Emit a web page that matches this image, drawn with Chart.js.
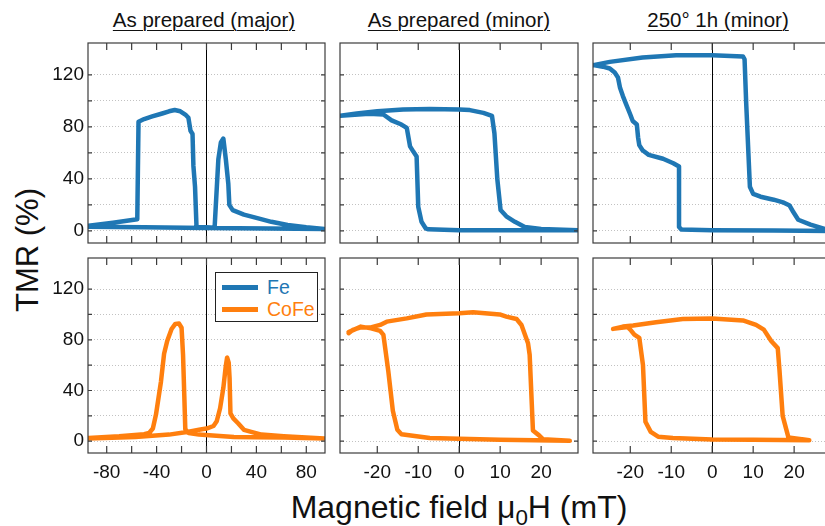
<!DOCTYPE html>
<html>
<head>
<meta charset="utf-8">
<title>TMR loops</title>
<script src="https://cdn.jsdelivr.net/npm/chart.js@4.4.1/dist/chart.umd.min.js"></script>
<style>
  body { margin: 0; width: 825px; height: 526px; overflow: hidden; background: #fff; position: relative;
         font-family: "Liberation Sans", Arial, sans-serif; color: #111; }
  canvas { position: absolute; }
  .title { position: absolute; top: 10px; font-size: 20.5px; line-height: 1; text-decoration: underline;
           text-underline-offset: 3px; text-decoration-thickness: 1px; transform: translateX(-50%); white-space: nowrap; }
  #xtitle { position: absolute; left: 459px; top: 491px; font-size: 32px; line-height: 1; transform: translateX(-50%); white-space: nowrap; }
  #xtitle sub { font-size: 0.7em; vertical-align: -0.3em; line-height: 0; }
  #ytitle { position: absolute; left: 27px; top: 250px; font-size: 31px; line-height: 1; white-space: nowrap;
            transform: translate(-50%, -50%) rotate(-90deg); }
  #legend { position: absolute; left: 215px; top: 272px; width: 101px; height: 48px; border: 1px solid #222;
            background: #fff; z-index: 5; }
  #legend .sw { position: absolute; left: 6px; width: 36px; height: 5px; }
  #legend .lb { position: absolute; left: 51px; font-size: 19.5px; line-height: 1; }
</style>
</head>
<body>
<div class="title" style="left:204px">As prepared (major)</div>
<div class="title" style="left:459px">As prepared (minor)</div>
<div class="title" style="left:718px">250° 1h (minor)</div>
<div id="ytitle">TMR (%)</div>
<div id="xtitle">Magnetic field μ<sub>0</sub>H (mT)</div>
<div id="legend">
  <div class="sw" style="top:12px;background:#1f77b4"></div><div class="lb" style="top:5px;color:#1f77b4">Fe</div>
  <div class="sw" style="top:34px;background:#ff7f0e"></div><div class="lb" style="top:27px;color:#ff7f0e">CoFe</div>
</div>
<script>
// Fe, as prepared, major loop
const feMajorH   = [-94.5, -75, -55.5, -54.5, -50, -43.5, -35.5, -30, -25.5, -21, -17, -14.5, -12.8, -11.2, -10.5, -9.2, -8, 0, 6.5, 9.5, 11.5, 13.5, 15.5, 17.5, 18.3, 21, 30, 40, 52, 65, 80, 94.5, 50, 0, -50, -94.5];
const feMajorTMR = [4, 6.3, 9, 84, 86, 88, 90.3, 92, 93, 92, 89.5, 87, 77, 74.5, 50, 34, 3, 2.8, 2.5, 55, 68, 71, 55, 36, 20, 16, 12.5, 10, 7, 4.5, 2.8, 1.5, 1.8, 2.3, 2.8, 3.2];

// Fe, as prepared, minor loop
const feMinorH   = [-29, -25, -20, -13.7, -7.2, 0, 2.6, 5.9, 8, 8.6, 9.3, 10.1, 11.5, 13.6, 16, 20, 29, 15, 0, -7.5, -8.2, -9.2, -10, -10.4, -11.2, -12, -12.8, -14.1, -16.5, -18.5, -22, -29];
const feMinorTMR = [88.5, 90.3, 92, 93.4, 93.8, 93.4, 92.9, 90.8, 88.5, 75, 40, 16, 11.2, 7, 3, 1.5, 0.5, 0.5, 0.6, 1.2, 2, 7, 18.6, 57.3, 61, 65, 79.2, 81.8, 85, 89.5, 90, 88.5];

// Fe, annealed 250° 1h, minor loop
const feAnnealH   = [-29, -25, -17, -8.8, 0, 7.5, 7.9, 8.3, 9.2, 10, 11.8, 15, 17.5, 18.9, 19.8, 21, 24, 29, 15, 0, -7.5, -8.1, -8.1, -9.5, -12, -15.5, -17, -17.8, -18.1, -18.4, -19.4, -20, -21, -21.8, -22.5, -23, -23.8, -25, -26.7, -29];
const feAnnealTMR = [127.5, 130, 133.4, 135, 135, 134.2, 132, 98, 34, 28.5, 26.3, 24, 21.7, 19.5, 14.5, 8.6, 4.8, 0, 0.3, 0.5, 1, 3, 49.5, 52, 55.5, 58.5, 62, 66, 72, 81.8, 84.5, 89.5, 97.3, 103.7, 110, 118, 121.8, 124.9, 126.3, 127.5];

// CoFe, as prepared, major loop
const coFeMajorH   = [-94.5, -70, -50, -46, -43, -40.5, -36.5, -34, -31.5, -28, -25, -22, -20, -18.8, -17.8, -17, -14.3, -6, 5, 22, 40, 62, 94.5, 62, 44, 30, 25.5, 21.5, 19.2, 18.5, 17.8, 16.5, 15.3, 13.5, 10.9, 8.2, 5.6, 0, -6, -14.3, -30, -57, -94.5];
const coFeMajorTMR = [2.6, 3.9, 5.5, 6.5, 10, 21, 47, 69, 79, 88.5, 92.5, 92.8, 89.5, 68, 36, 9.5, 6.5, 5.2, 4.5, 3.4, 3.1, 2.9, 2.1, 3.9, 5.2, 9, 14, 18, 22, 50, 62, 66, 58, 42, 26, 15.7, 12, 10, 9, 7.5, 5.2, 3.4, 2.1];

// CoFe, as prepared, minor loop
const coFeMinorH   = [-27, -26, -24.2, -21.8, -19.3, -17.7, -12.8, -8, 0, 3.4, 9.9, 11.5, 14, 15.2, 16.8, 17.2, 18, 19.5, 20.5, 27, 10, 0, -7.2, -14.1, -15.1, -16.2, -17.3, -18.5, -19.3, -21.5, -24, -27];
const coFeMinorTMR = [85.2, 87.8, 89.6, 89.6, 91.7, 94.3, 96.9, 100, 100.9, 101.7, 100, 98.3, 96.4, 91.7, 77.3, 68.1, 8.5, 4.6, 1.5, 0.3, 1.2, 2, 2.5, 5.5, 9, 24, 55, 83.8, 87, 89, 90.4, 86];

// CoFe, annealed 250° 1h, minor loop
const coFeAnnealH   = [-24.2, -21.8, -19.3, -13.7, -7.2, 0, 7.5, 10.7, 12.6, 14.4, 16, 16.4, 17.2, 18.6, 23.7, 10, 0, -9.6, -13.2, -15, -16.3, -16.9, -17.8, -19, -19.8, -20.6, -24.2];
const coFeAnnealTMR = [88.6, 90.4, 91.2, 93.8, 96.4, 96.8, 95.3, 91.7, 88, 79, 73.4, 57, 20, 3, 0.8, 1.1, 1.4, 2.6, 3.6, 7.4, 15.3, 60, 81.5, 84, 87.3, 90, 88.6];

// axis ticks
const tmrTicks   = [0, 20, 40, 60, 80, 100, 120];
const majorTicks = [-80, -60, -40, -20, 0, 20, 40, 60, 80];
const minorTicks = [-20, -10, 0, 10, 20];

const FE_BLUE = '#1f77b4';
const COFE_ORANGE = '#ff7f0e';

Chart.defaults.font.family = '"Liberation Sans", Arial, sans-serif';
Chart.defaults.font.size = 19;
Chart.defaults.color = '#111';

// box around the plot area with inward tick marks on all four sides
const frameTicks = {
  id: 'frameTicks',
  afterDraw(chart) {
    const { ctx, chartArea: a, scales } = chart;
    ctx.save();
    ctx.strokeStyle = '#3c3c3c';
    ctx.lineWidth = 1.2;
    ctx.beginPath();
    scales.x.ticks.forEach(t => {
      const px = scales.x.getPixelForValue(t.value);
      ctx.moveTo(px, a.top); ctx.lineTo(px, a.top + 7);
      ctx.moveTo(px, a.bottom); ctx.lineTo(px, a.bottom - 7);
    });
    scales.y.ticks.forEach(t => {
      const py = scales.y.getPixelForValue(t.value);
      ctx.moveTo(a.left, py); ctx.lineTo(a.left + 4, py);
      ctx.moveTo(a.right, py); ctx.lineTo(a.right - 4, py);
    });
    ctx.stroke();
    ctx.strokeRect(a.left, a.top, a.right - a.left, a.bottom - a.top);
    ctx.restore();
  }
};

const panels = [
  { field: feMajorH,    tmr: feMajorTMR,    color: FE_BLUE,     left: 88,  top: 43,  w: 237, h: 200, xMin: -95,   xMax: 95, xTicks: majorTicks, labelStep: 40, showX: false, showY: true },
  { field: feMinorH,    tmr: feMinorTMR,    color: FE_BLUE,     left: 340, top: 43,  w: 238, h: 200, xMin: -29.1, xMax: 29, xTicks: minorTicks, labelStep: 10, showX: false, showY: false },
  { field: feAnnealH,   tmr: feAnnealTMR,   color: FE_BLUE,     left: 593, top: 43,  w: 238, h: 200, xMin: -29.1, xMax: 29, xTicks: minorTicks, labelStep: 10, showX: false, showY: false },
  { field: coFeMajorH,  tmr: coFeMajorTMR,  color: COFE_ORANGE, left: 88,  top: 258, w: 237, h: 195, xMin: -95,   xMax: 95, xTicks: majorTicks, labelStep: 40, showX: true,  showY: true },
  { field: coFeMinorH,  tmr: coFeMinorTMR,  color: COFE_ORANGE, left: 340, top: 258, w: 238, h: 195, xMin: -29.1, xMax: 29, xTicks: minorTicks, labelStep: 10, showX: true,  showY: false },
  { field: coFeAnnealH, tmr: coFeAnnealTMR, color: COFE_ORANGE, left: 593, top: 258, w: 238, h: 195, xMin: -29.1, xMax: 29, xTicks: minorTicks, labelStep: 10, showX: true,  showY: false }
];

const Y_AXIS_W = 60, X_AXIS_H = 34, PAD = 6;

panels.forEach(p => {
  const canvas = document.createElement('canvas');
  canvas.width = p.w + Y_AXIS_W + PAD;
  canvas.height = p.h + PAD + X_AXIS_H;
  canvas.style.left = (p.left - Y_AXIS_W) + 'px';
  canvas.style.top = (p.top - PAD) + 'px';
  document.body.appendChild(canvas);

  new Chart(canvas.getContext('2d'), {
    type: 'scatter',
    data: {
      datasets: [{
        data: p.field.map((f, i) => ({ x: f, y: p.tmr[i] })),
        showLine: true,
        borderColor: p.color,
        borderWidth: 4.5,
        pointRadius: 0,
        tension: 0,
        borderJoinStyle: 'round',
        borderCapStyle: 'round',
        fill: false
      }]
    },
    options: {
      responsive: false,
      animation: false,
      devicePixelRatio: 1,
      layout: { padding: { left: 0, top: PAD, right: PAD, bottom: 0 } },
      plugins: { legend: { display: false }, tooltip: { enabled: false } },
      scales: {
        x: {
          type: 'linear',
          min: p.xMin,
          max: p.xMax,
          afterBuildTicks: s => { s.ticks = p.xTicks.map(v => ({ value: v })); },
          // fixed axis band; labels sit well inside the range so no edge padding is needed
          afterFit: s => { s.height = X_AXIS_H; s.paddingLeft = 0; s.paddingRight = 0; },
          grid: {
            drawTicks: false,
            lineWidth: 1,
            color: c => (c.tick && c.tick.value === 0) ? '#000' : 'rgba(0,0,0,0)'
          },
          border: { display: false },
          ticks: {
            display: p.showX,
            autoSkip: false,
            maxRotation: 0,
            padding: 8,
            callback: v => (v % p.labelStep === 0 ? v : '')
          }
        },
        y: {
          type: 'linear',
          min: -9.3,
          max: 144.5,
          afterBuildTicks: s => { s.ticks = tmrTicks.map(v => ({ value: v })); },
          afterFit: s => { s.width = Y_AXIS_W; s.paddingTop = 0; s.paddingBottom = 0; },
          grid: { drawTicks: false, lineWidth: 1, color: '#c2c2c2' },
          border: { display: false, dash: [1, 2] },
          ticks: {
            display: p.showY,
            autoSkip: false,
            padding: 4,
            callback: v => (v % 40 === 0 ? v : '')
          }
        }
      }
    },
    plugins: [frameTicks]
  });
});
</script>
</body>
</html>
